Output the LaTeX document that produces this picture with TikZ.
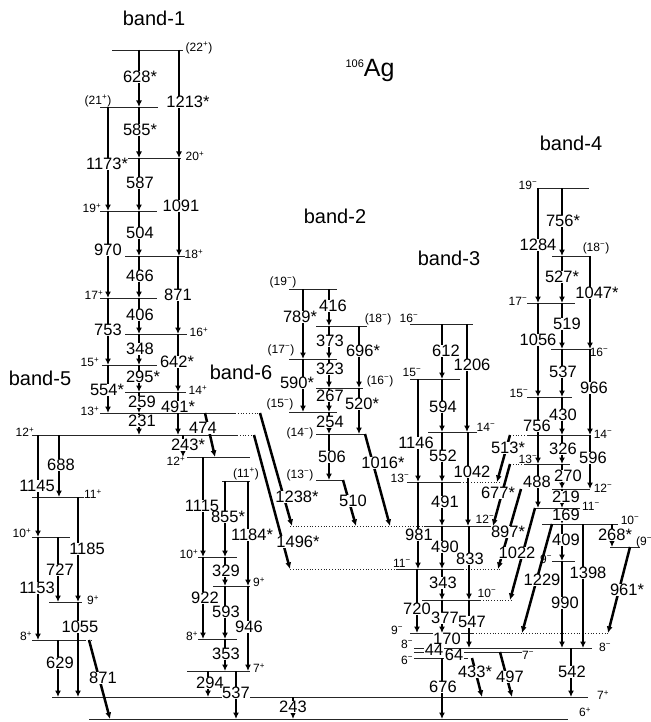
\documentclass[tikz,border=0pt]{standalone}
\usepackage{fontspec}
\setmainfont{Liberation Sans}
\usetikzlibrary{arrows.meta}
\pgfdeclarelayer{fg}
\pgfsetlayers{main,fg}

\tikzset{
  lvl/.style={line width=0.8pt, black!85},
  lvldot/.style={line width=0.8pt, dotted, black!85},
  gam/.style={line width=2.5pt, -{Latex[length=6.5pt,width=6pt]}},
  en/.style={fill=white, inner sep=0.4pt, font=\fontsize{16.5}{16.5}\selectfont},
  spin/.style={inner sep=0.5pt, font=\fontsize{12}{12}\selectfont},
  bandname/.style={font=\fontsize{20}{20}\selectfont},
}
\newcommand{\jp}{\textsuperscript{+}}
\newcommand{\jm}{\textsuperscript{−}}
% level: name, y, x1, x2, label position, spin
\newcommand{\mklev}[6]{%
  \coordinate (#1) at (0,#2);
  \draw[lvl] (#3,#2) -- (#4,#2);
  \begin{pgfonlayer}{fg}\node[spin] (#1j) at (#5) {#6};\end{pgfonlayer}}
% vertical gamma: name, x, from, to, label position, energy
\newcommand{\mkgam}[6]{%
  \draw[gam] (#2,0 |- #3) -- (#2,0 |- #4);
  \begin{pgfonlayer}{fg}\node[en] (#1) at (#5) {#6};\end{pgfonlayer}}
% slanted gamma: name, x1, from, x2, to, label position, energy
\newcommand{\mkslant}[7]{%
  \draw[gam] (#2,0 |- #3) -- (#4,0 |- #5);
  \begin{pgfonlayer}{fg}\node[en] (#1) at (#6) {#7};\end{pgfonlayer}}

\begin{document}
\begin{tikzpicture}[x=1pt,y=-1pt]
\useasboundingbox (0,0) rectangle (650,722);

% titles
\node[bandname] (t1) at (154,18) {band-1};
\node[bandname] (t2) at (335,216) {band-2};
\node[bandname] (t3) at (449,258) {band-3};
\node[bandname] (t4) at (571,143) {band-4};
\node[bandname] (t5) at (40,378) {band-5};
\node[bandname] (t6) at (241,372) {band-6};
\node (nuc) at (370,70) {\raisebox{9pt}{\fontsize{11}{11}\selectfont 106}\fontsize{25}{25}\selectfont Ag};

% band-1 levels
\mklev{b1s22}{50}{112}{183}{199,48}{(22\jp)}
\mklev{b1s21}{107}{100}{158}{98,101}{(21\jp)}
\mklev{b1s20}{158}{110}{181}{195,156}{20\jp}
\mklev{b1s19}{211}{100}{157}{92,208}{19\jp}
\mklev{b1s18}{256}{125}{185}{194,254}{18\jp}
\mklev{b1s17}{298}{100}{157}{94,295}{17\jp}
\mklev{b1s16}{334}{125}{187}{199,332}{16\jp}
\mklev{b1s15}{365}{102}{157}{90,362}{15\jp}
\mklev{b1s14}{392}{125}{186}{198,390}{14\jp}
\mklev{b1s13}{413}{100}{235}{90,411}{13\jp}
\draw[lvldot] (235,413) -- (260,413);

% band-5 levels
\mklev{b5s12}{435}{32}{237}{25,432}{12\jp}
\draw[lvldot] (237,435) -- (255,435);
\mklev{b5s11}{497}{32}{84}{93,494}{11\jp}
\mklev{b5s10}{537}{32}{70}{22,533}{10\jp}
\mklev{b5s9}{602}{49}{82}{93,600}{9\jp}
\mklev{b5s8}{640}{32}{85}{26,636}{8\jp}
\draw[lvldot] (85,640) -- (92,640);

% lowest levels
\mklev{s7}{697}{52}{588}{603,695}{7\jp}
\mklev{s6}{719}{89}{568}{585,712}{6\jp}

% band-6 levels
\mklev{b6s12}{457}{187}{250}{176,461}{12\jp}
\mklev{b6s11}{481}{222}{250}{246,474}{(11\jp)}
\mklev{b6s10}{557}{198}{237}{189,554}{10\jp}
\mklev{b6s9}{586}{213}{250}{259,582}{9\jp}
\mklev{b6s8}{639}{198}{237}{192,636}{8\jp}
\mklev{b6s7}{671}{187}{250}{259,668}{7\jp}

% band-2 levels
\mklev{b2s19}{289}{289}{337}{283,282}{(19\jm)}
\mklev{b2s18}{326}{316}{367}{378,319}{(18\jm)}
\mklev{b2s17}{359}{289}{337}{281,350}{(17\jm)}
\mklev{b2s16}{388}{316}{363}{380,381}{(16\jm)}
\mklev{b2s15}{412}{289}{337}{280,404}{(15\jm)}
\mklev{b2s14}{434}{316}{365}{300,433}{(14\jm)}
\mklev{b2s13}{480}{316}{343}{300,475}{(13\jm)}

% band-3 levels
\mklev{b3s16}{324}{410}{473}{409,318}{16\jm}
\mklev{b3s15}{379}{410}{460}{412,372}{15\jm}
\mklev{b3s14}{432}{428}{477}{486,427}{14\jm}
\mklev{b3s13}{482}{407}{460}{400,478}{13\jm}
\draw[lvldot] (460,482) -- (500,482);
\mklev{b3s12}{526}{425}{495}{485,519}{12\jm}
\draw[lvldot] (290,526) -- (425,526);
\mklev{b3s11}{569}{397}{463}{402,563}{11\jm}
\draw[lvldot] (290,569) -- (397,569);
\draw[lvldot] (463,569) -- (500,569);
\mklev{b3s10}{600}{422}{480}{487,593}{10\jm}
\draw[lvldot] (480,600) -- (512,600);
\mklev{b3s9}{633}{410}{473}{397,630}{9\jm}
\draw[lvldot] (473,633) -- (610,633);
\mklev{b3s8}{648}{414}{592}{407,644}{8\jm}
\node[spin] (b3s8r) at (605,647) {8\jm};
\mklev{b3s7}{652}{414}{522}{528,655}{7\jm}
\mklev{b3s6}{658}{414}{468}{407,660}{6\jm}

% band-4 levels
\mklev{b4s19}{188}{538}{589}{528,185}{19\jm}
\mklev{b4s18}{256}{552}{590}{596,248}{(18\jm)}
\mklev{b4s17}{303}{527}{575}{518,301}{17\jm}
\mklev{b4s16}{349}{551}{590}{599,352}{16\jm}
\mklev{b4s15}{397}{527}{572}{519,393}{15\jm}
\mklev{b4s14}{435}{528}{590}{603,434}{14\jm}
\draw[lvldot] (510,435) -- (528,435);
\mklev{b4s13}{464}{525}{570}{528,459}{13\jm}
\draw[lvldot] (510,464) -- (525,464);
\mklev{b4s12}{489}{552}{590}{603,488}{12\jm}
\mklev{b4s11}{508}{535}{580}{591,506}{11\jm}
\mklev{b4s10}{524}{542}{618}{630,520}{10\jm}
\mklev{b4s9b}{547}{610}{640}{646,542}{(9\jm)}
\mklev{b4s9}{561}{552}{575}{546,559}{9\jm}

% band-1 gammas
\mkgam{g628}{139}{b1s22}{b1s21}{140,77}{628*}
\mkgam{g1213}{179}{b1s22}{b1s20}{188,102}{1213*}
\mkgam{g585}{139}{b1s21}{b1s20}{140,130}{585*}
\mkgam{g1173}{108}{b1s21}{b1s19}{107,164}{1173*}
\mkgam{g587}{139}{b1s20}{b1s19}{140,183}{587}
\mkgam{g1091}{179}{b1s20}{b1s18}{181,206}{1091}
\mkgam{g504}{139}{b1s19}{b1s18}{140,233}{504}
\mkgam{g970}{108}{b1s19}{b1s17}{108,250}{970}
\mkgam{g466}{139}{b1s18}{b1s17}{140,276}{466}
\mkgam{g871a}{178}{b1s18}{b1s16}{178,295}{871}
\mkgam{g406}{139}{b1s17}{b1s16}{140,315}{406}
\mkgam{g753}{108}{b1s17}{b1s15}{108,330}{753}
\mkgam{g348}{139}{b1s16}{b1s15}{140,349}{348}
\mkgam{g642}{178}{b1s16}{b1s14}{177,362}{642*}
\mkgam{g295}{139}{b1s15}{b1s14}{143,377}{295*}
\mkgam{g554}{108}{b1s15}{b1s13}{107,390}{554*}
\mkgam{g259}{139}{b1s14}{b1s13}{142,402}{259}
\mkgam{g491a}{178}{b1s14}{b5s12}{178,407}{491*}
\mkgam{g231}{139}{b1s13}{b5s12}{142,421}{231}
\mkslant{g474}{205}{b1s13}{215}{b6s12}{203,428}{474}
\mkgam{g243s}{183}{b5s12}{b6s12}{188,445}{243*}
\mkslant{g1238}{260}{b1s13}{292}{b3s12}{297,497}{1238*}
\mkslant{g1496}{254}{b5s12}{290}{b3s11}{298,542}{1496*}

% band-5 gammas
\mkgam{g1145}{38}{b5s12}{b5s10}{37,486}{1145}
\mkgam{g688}{59}{b5s12}{b5s11}{61,465}{688}
\mkgam{g1185}{78}{b5s11}{b5s9}{87,549}{1185}
\mkgam{g727}{58}{b5s10}{b5s9}{60,570}{727}
\mkgam{g1153}{38}{b5s10}{b5s8}{37,588}{1153}
\mkgam{g1055}{78}{b5s9}{s7}{80,627}{1055}
\mkgam{g629}{58}{b5s8}{s7}{60,663}{629}
\mkslant{g871b}{89}{b5s8}{110}{s6}{103,678}{871}

% band-6 gammas
\mkgam{g1115}{203}{b6s12}{b6s10}{202,506}{1115}
\mkgam{g855}{225}{b6s11}{b6s10}{228,517}{855*}
\mkgam{g1184}{248}{b6s11}{b6s9}{252,535}{1184*}
\mkgam{g329}{225}{b6s10}{b6s9}{226,571}{329}
\mkgam{g922}{203}{b6s10}{b6s8}{205,598}{922}
\mkgam{g593}{225}{b6s9}{b6s8}{226,612}{593}
\mkgam{g946}{248}{b6s9}{b6s7}{249,627}{946}
\mkgam{g353}{225}{b6s8}{b6s7}{226,654}{353}
\mkgam{g294}{208}{b6s7}{s7}{210,683}{294}
\mkgam{g537a}{236}{b6s7}{s6}{236,693}{537}
\mkgam{g243}{293}{s7}{s6}{293,707}{243}

% band-2 gammas
\mkgam{g789}{303}{b2s19}{b2s17}{300,317}{789*}
\mkgam{g416}{329}{b2s19}{b2s18}{333,306}{416}
\mkgam{g373}{329}{b2s18}{b2s17}{330,341}{373}
\mkgam{g696}{359}{b2s18}{b2s16}{363,351}{696*}
\mkgam{g323}{329}{b2s17}{b2s16}{330,369}{323}
\mkgam{g590}{303}{b2s17}{b2s15}{297,383}{590*}
\mkgam{g267}{329}{b2s16}{b2s15}{330,396}{267}
\mkgam{g520}{359}{b2s16}{b2s14}{362,404}{520*}
\mkgam{g254}{329}{b2s15}{b2s14}{330,422}{254}
\mkgam{g506}{329}{b2s14}{b2s13}{332,457}{506}
\mkslant{g1016}{365}{b2s14}{390}{b3s12}{383,463}{1016*}
\mkslant{g510}{343}{b2s13}{356}{b3s12}{353,501}{510}

% band-3 gammas
\mkgam{g612}{442}{b3s16}{b3s15}{446,351}{612}
\mkgam{g1206}{467}{b3s16}{b3s14}{472,365}{1206}
\mkgam{g594}{442}{b3s15}{b3s14}{443,407}{594}
\mkgam{g1146}{418}{b3s15}{b3s13}{416,443}{1146}
\mkgam{g552}{442}{b3s14}{b3s13}{443,456}{552}
\mkgam{g1042}{468}{b3s14}{b3s12}{472,472}{1042}
\mkgam{g491b}{442}{b3s13}{b3s12}{445,502}{491}
\mkgam{g981}{418}{b3s13}{b3s11}{419,535}{981}
\mkgam{g490}{442}{b3s12}{b3s11}{445,547}{490}
\mkgam{g833}{469}{b3s12}{b3s10}{470,559}{833}
\mkgam{g343}{442}{b3s11}{b3s10}{443,583}{343}
\mkgam{g720}{417}{b3s11}{b3s9}{417,609}{720}
\mkgam{g377}{442}{b3s10}{b3s9}{445,618}{377}
\mkgam{g547}{469}{b3s10}{b3s8}{472,622}{547}
\mkgam{g170}{442}{b3s9}{b3s8}{447,639}{170}
\begin{pgfonlayer}{fg}
\node[en] (g44) at (434,650) {44};
\node[en] (g64) at (454,655) {64};
\end{pgfonlayer}
\mkgam{g676}{442}{b3s6}{s6}{443,687}{676}
\mkslant{g433}{472}{b3s6}{482}{s7}{475,672}{433*}
\mkslant{g497}{500}{b3s7}{512}{s7}{510,677}{497}

% band-4 gammas
\mkgam{g1284}{538}{b4s19}{b4s17}{538,245}{1284}
\mkgam{g756a}{562}{b4s19}{b4s18}{563,221}{756*}
\mkgam{g527}{562}{b4s18}{b4s17}{562,277}{527*}
\mkgam{g1047}{590}{b4s18}{b4s16}{597,293}{1047*}
\mkgam{g519}{562}{b4s17}{b4s16}{567,324}{519}
\mkgam{g1056}{538}{b4s17}{b4s15}{538,340}{1056}
\mkgam{g537b}{562}{b4s16}{b4s15}{563,372}{537}
\mkgam{g966}{590}{b4s16}{b4s14}{594,388}{966}
\mkgam{g430}{562}{b4s15}{b4s14}{563,415}{430}
\mkgam{g756b}{538}{b4s15}{b4s13}{537,426}{756}
\mkgam{g326}{562}{b4s14}{b4s13}{563,449}{326}
\mkgam{g596}{590}{b4s14}{b4s12}{593,458}{596}
\mkgam{g270}{562}{b4s13}{b4s12}{568,476}{270}
\mkgam{g488}{538}{b4s13}{b4s11}{537,482}{488}
\mkgam{g219}{562}{b4s12}{b4s11}{566,497}{219}
\mkgam{g169}{562}{b4s11}{b4s10}{566,515}{169}
\mkgam{g409}{562}{b4s10}{b4s9}{566,540}{409}
\mkgam{g990}{562}{b4s9}{b3s8}{565,603}{990}
\mkgam{g1398}{583}{b4s10}{b3s8}{588,573}{1398}
\mkgam{g542}{571}{b3s8}{s7}{572,672}{542}
\mkgam{g268}{612}{b4s10}{b4s9b}{615,535}{268*}
\mkslant{g961}{630}{b4s9b}{608}{b3s9}{627,590}{961*}
\mkslant{g513}{510}{b4s14}{497}{b3s13}{508,448}{513*}
\mkslant{g677}{510}{b4s13}{493}{b3s12}{498,493}{677*}
\mkslant{g897}{521}{b4s12}{498}{b3s11}{508,532}{897*}
\mkslant{g1022}{535}{b4s11}{510}{b3s10}{517,553}{1022}
\mkslant{g1229}{552}{b4s10}{522}{b3s9}{542,580}{1229}
\end{tikzpicture}
\end{document}
